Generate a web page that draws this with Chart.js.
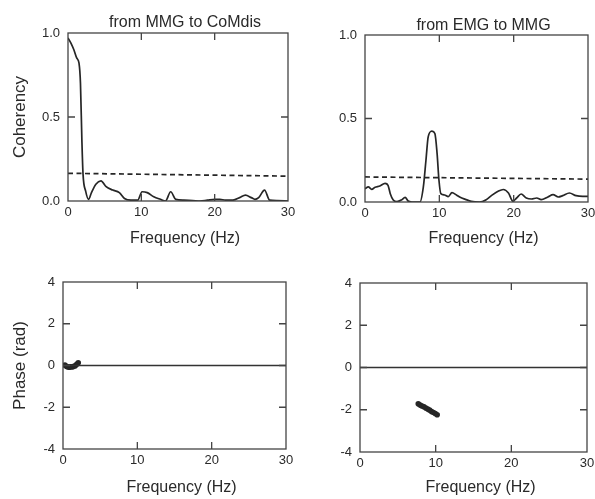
<!DOCTYPE html>
<html>
<head>
<meta charset="utf-8">
<script src="https://cdn.jsdelivr.net/npm/chart.js@4.4.1/dist/chart.umd.min.js"></script>
<style>
    html, body { margin: 0; padding: 0; background: #fff; }
    #page { position: relative; width: 595px; height: 499px; overflow: hidden; background: #fff; }
    #page canvas { position: absolute; }
</style>
</head>
<body>
<div id="page">
    <canvas id="cohMmgCom" width="300" height="250" style="left:0;top:0"></canvas>
    <canvas id="cohEmgMmg" width="310" height="250" style="left:297px;top:0"></canvas>
    <canvas id="phaseMmgCom" width="300" height="249" style="left:0;top:250px"></canvas>
    <canvas id="phaseEmgMmg" width="310" height="249" style="left:297px;top:250px"></canvas>
</div>
<script>
// axis ticks
const FREQ_TICKS = [0, 10, 20, 30];
const COH_TICKS = [0, 0.5, 1.0];
const PHASE_TICKS = [-4, -2, 0, 2, 4];

// coherency, MMG -> CoMdis
const mmgComFreq = [0, 0.4, 0.8, 1.2, 1.5, 1.7, 1.9, 2.05, 2.4, 2.8, 3.2, 3.8, 4.5, 5.2, 6.1, 7.0, 7.7, 8.6, 9.5, 10.1,
    10.8, 11.7, 12.6, 13.3, 14.0, 14.7, 15.8, 17.0, 18.0, 19.0, 20.0, 20.7, 21.5, 22.5, 23.4, 24.2, 25.0, 25.5, 26.0, 26.8,
    27.5, 28.5, 30];
const mmgComCoh = [0.97, 0.94, 0.9, 0.85, 0.82, 0.7, 0.35, 0.16, 0.06, 0.01, 0.05, 0.1, 0.12, 0.085, 0.065, 0.05, 0.015, 0.005, 0.005, 0.055,
    0.05, 0.025, 0.01, 0, 0.055, 0.01, 0.005, 0.003, 0, 0.005, 0.01, 0.01, 0.005, 0.005, 0.02, 0.035, 0.02, 0.01, 0.02, 0.065,
    0.005, 0.003, 0];
const mmgComLimitFreq = [0, 30];
const mmgComLimit = [0.165, 0.148];

// coherency, EMG -> MMG
const emgMmgFreq = [0, 0.45, 0.9, 1.35, 2.0, 2.7, 3.1, 3.4, 3.8, 4.3, 4.9, 5.4, 5.8, 6.3, 7.4, 7.85, 8.2, 8.5, 9.0, 9.4,
    9.7, 9.95, 10.2, 10.7, 11.2, 11.7, 12.3, 12.8, 13.5, 14.3, 15.4, 16.3, 17.0, 17.9, 18.6, 19.3, 19.9, 20.4, 21.0, 21.7,
    22.4, 23.1, 23.7, 24.6, 25.3, 26.0, 26.6, 27.5, 28.4, 29.3, 30];
const emgMmgCoh = [0.08, 0.09, 0.076, 0.088, 0.096, 0.112, 0.1, 0.05, 0.012, 0.002, 0.012, 0.028, 0.006, 0, 0, 0.09, 0.25, 0.39, 0.425, 0.41,
    0.29, 0.13, 0.05, 0.042, 0.032, 0.056, 0.042, 0.028, 0.016, 0.004, 0, 0.014, 0.038, 0.064, 0.075, 0.054, 0.005, 0.024, 0.048, 0.024,
    0.018, 0.024, 0.014, 0.03, 0.044, 0.03, 0.038, 0.054, 0.038, 0.034, 0.034];
const emgMmgLimitFreq = [0, 30];
const emgMmgLimit = [0.15, 0.137];

// phase where coherency is significant
const mmgComPhaseFreq = [0.25, 0.45, 0.65, 0.85, 1.05, 1.25, 1.45, 1.65, 1.85, 2.05];
const mmgComPhase = [0.02, -0.04, -0.07, -0.08, -0.06, -0.07, -0.04, -0.01, 0.06, 0.13];
const emgMmgPhaseFreq = [7.7, 7.95, 8.2, 8.45, 8.7, 8.95, 9.2, 9.45, 9.7, 9.95, 10.2];
const emgMmgPhase = [-1.72, -1.78, -1.82, -1.86, -1.92, -1.97, -2.02, -2.08, -2.13, -2.18, -2.24];
const zeroFreq = [0, 30];
const zeroPhase = [0, 0];

const FONT = "'Liberation Sans', Arial, Helvetica, sans-serif";
const INK = "#262626";
const TEXT = "#2a2a2a";
const TITLE_SHIFT = 7; // horizontal titles sit a bit right of the plot centre

Chart.defaults.font.family = FONT;
Chart.defaults.color = TEXT;

function points(xs, ys) {
    return xs.map((x, i) => ({ x: x, y: ys[i] }));
}

function shiftTitles(chart, dx) {
    for (const id of ["x", "x2"]) {
        const s = chart.scales[id];
        if (!s) continue;
        s.left += dx;
        s.right += dx;
    }
}

// box round the plot area with short inward ticks on all four sides
const framePlugin = {
    id: "frame",
    beforeDraw(chart) {
        shiftTitles(chart, TITLE_SHIFT);
    },
    beforeDatasetsDraw(chart) {
        shiftTitles(chart, -TITLE_SHIFT);
    },
    afterDatasetsDraw(chart) {
        const { ctx, chartArea: a, scales } = chart;
        const x = scales.x;
        const y = scales.y;
        ctx.save();
        ctx.strokeStyle = "#444";
        ctx.lineWidth = 1.3;
        ctx.strokeRect(a.left, a.top, a.right - a.left, a.bottom - a.top);
        ctx.beginPath();
        for (const t of x.ticks) {
            if (t.value <= x.min || t.value >= x.max) continue;
            const px = x.getPixelForValue(t.value);
            ctx.moveTo(px, a.top);
            ctx.lineTo(px, a.top + 7);
            ctx.moveTo(px, a.bottom);
            ctx.lineTo(px, a.bottom - 7);
        }
        for (const t of y.ticks) {
            if (t.value <= y.min || t.value >= y.max) continue;
            const py = y.getPixelForValue(t.value);
            ctx.moveTo(a.left, py);
            ctx.lineTo(a.left + 7, py);
            ctx.moveTo(a.right, py);
            ctx.lineTo(a.right - 7, py);
        }
        ctx.stroke();
        ctx.restore();
    },
};

function fixedTicks(values) {
    return function (scale) {
        scale.ticks = values.map((v) => ({ value: v }));
    };
}

function makePanel(id, area, datasets, y, title, titleY) {
    const canvas = document.getElementById(id);
    const W = canvas.width;
    const H = canvas.height;
    const padLeft = y.title ? 4 : 0;

    const scales = {
        x: {
            type: "linear",
            min: 0,
            max: 30,
            afterBuildTicks: fixedTicks(FREQ_TICKS),
            grid: { display: false },
            border: { display: false },
            ticks: { font: { size: 13 }, color: TEXT, padding: -4, maxRotation: 0, autoSkip: false },
            title: {
                display: true,
                text: "Frequency (Hz)",
                font: { size: 16 },
                color: TEXT,
                padding: { top: 0, bottom: 2 },
            },
            afterFit: (s) => { s.height = H - area.bottom; },
        },
        y: {
            type: "linear",
            min: y.min,
            max: y.max,
            afterBuildTicks: fixedTicks(y.ticks),
            grid: { display: false },
            border: { display: false },
            ticks: { font: { size: 13 }, color: TEXT, padding: 0, callback: y.format },
            title: {
                display: !!y.title,
                text: y.title || "",
                font: { size: 17 },
                color: TEXT,
                padding: { top: 6, bottom: 0 },
            },
            afterFit: (s) => { s.width = area.left - padLeft; },
        },
    };

    if (title) {
        scales.x2 = {
            type: "linear",
            position: "top",
            min: 0,
            max: 30,
            grid: { display: false },
            border: { display: false },
            ticks: { display: false },
            title: {
                display: true,
                text: title,
                font: { size: 16 },
                color: TEXT,
                padding: { top: titleY - 9, bottom: 0 },
            },
            afterFit: (s) => { s.height = area.top; },
        };
    }

    return new Chart(canvas, {
        type: "line",
        data: { datasets: datasets },
        options: {
            responsive: false,
            animation: false,
            events: [],
            layout: {
                padding: { left: padLeft, top: title ? 0 : area.top, right: W - area.right, bottom: 0 },
            },
            plugins: { legend: { display: false }, tooltip: { enabled: false } },
            scales: scales,
        },
        plugins: [framePlugin],
    });
}

function coherencySet(xs, ys) {
    return {
        data: points(xs, ys),
        borderColor: INK,
        borderWidth: 1.7,
        pointRadius: 0,
        cubicInterpolationMode: "monotone",
    };
}

function limitSet(xs, ys) {
    return {
        data: points(xs, ys),
        borderColor: INK,
        borderWidth: 1.7,
        borderDash: [5, 3.5],
        pointRadius: 0,
    };
}

function phaseSet(xs, ys) {
    return {
        data: points(xs, ys),
        showLine: false,
        pointRadius: 2.8,
        pointBorderWidth: 0,
        pointBackgroundColor: INK,
    };
}

function zeroSet() {
    return {
        data: points(zeroFreq, zeroPhase),
        borderColor: "#333",
        borderWidth: 1.3,
        pointRadius: 0,
    };
}

const cohAxis = { min: 0, max: 1, ticks: COH_TICKS, format: (v) => v.toFixed(1) };
const phaseAxis = { min: -4, max: 4, ticks: PHASE_TICKS, format: (v) => String(v) };

makePanel("cohMmgCom", { left: 68, right: 288, top: 33, bottom: 201 },
    [coherencySet(mmgComFreq, mmgComCoh), limitSet(mmgComLimitFreq, mmgComLimit)],
    Object.assign({ title: "Coherency" }, cohAxis), "from MMG to CoMdis", 22);

makePanel("cohEmgMmg", { left: 68, right: 291, top: 35, bottom: 202 },
    [coherencySet(emgMmgFreq, emgMmgCoh), limitSet(emgMmgLimitFreq, emgMmgLimit)],
    cohAxis, "from EMG to MMG", 25);

makePanel("phaseMmgCom", { left: 63, right: 286, top: 32, bottom: 199 },
    [zeroSet(), phaseSet(mmgComPhaseFreq, mmgComPhase)],
    Object.assign({ title: "Phase (rad)" }, phaseAxis), null);

makePanel("phaseEmgMmg", { left: 63, right: 290, top: 33, bottom: 202 },
    [zeroSet(), phaseSet(emgMmgPhaseFreq, emgMmgPhase)],
    phaseAxis, null);
</script>
</body>
</html>
